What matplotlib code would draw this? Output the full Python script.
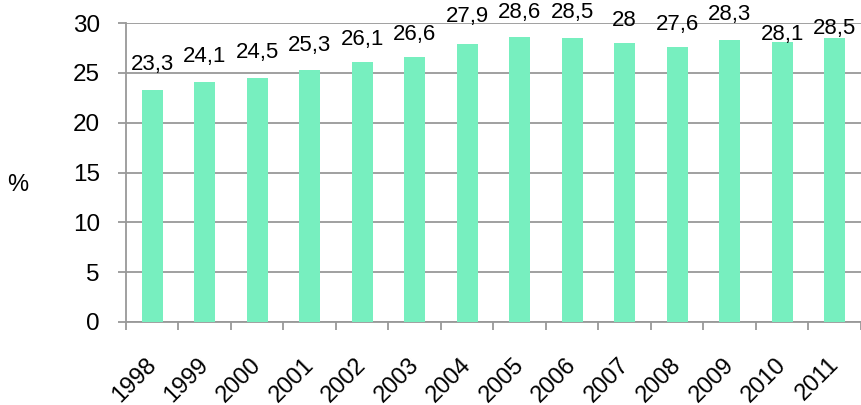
import matplotlib
matplotlib.use("Agg")
import matplotlib.pyplot as plt
import matplotlib.transforms as mtransforms
import numpy as np

years = ["1998", "1999", "2000", "2001", "2002", "2003", "2004",
         "2005", "2006", "2007", "2008", "2009", "2010", "2011"]
values = [23.3, 24.1, 24.5, 25.3, 26.1, 26.6, 27.9,
          28.6, 28.5, 28.0, 27.6, 28.3, 28.1, 28.5]
value_labels = ["23,3", "24,1", "24,5", "25,3", "26,1", "26,6", "27,9",
                "28,6", "28,5", "28", "27,6", "28,3", "28,1", "28,5"]
# label offsets above bar top (points)
label_dy = [18, 18, 18, 17.5, 16, 16, 19.5, 17.5, 18, 16, 16.5, 18, 5, 7]

plt.rcParams['font.family'] = ['Liberation Sans', 'DejaVu Sans']

fig = plt.figure(figsize=(8.62, 4.05), dpi=100)
ax = fig.add_axes([126/862, 1-322/405, (861-126)/862, (322-23)/405])

bar_color = "#77EFBF"
grid_color = "#999999"
x = np.arange(len(years))
ax.bar(x, values, width=0.4, color=bar_color, zorder=3)

for xi, v, lab, dy in zip(x, values, value_labels, label_dy):
    ax.annotate(lab, (xi, v), xytext=(0, dy), textcoords="offset points",
                ha="center", va="center", fontsize=16, color="black", zorder=4)

ax.set_xlim(-0.5, len(years) - 0.5)
ax.set_ylim(0, 30)
ax.set_yticks(np.arange(0, 31, 5))
ax.yaxis.grid(True, color=grid_color, linewidth=1.3, zorder=0)
ax.set_axisbelow(True)

ax.set_xticks(x)
ax.set_xticklabels(years, rotation=45, ha="right", rotation_mode="anchor", fontsize=17)
ax.tick_params(axis="x", which="major", length=0, pad=14)
offset = mtransforms.ScaledTranslation(-7/100, -12/100, fig.dpi_scale_trans)
for lbl in ax.get_xticklabels():
    lbl.set_transform(lbl.get_transform() + offset)
ax.set_xticks(np.arange(-0.5, len(years), 1), minor=True)
ax.tick_params(axis="x", which="minor", length=5.8, width=1.3, color=grid_color, direction="out")
ax.tick_params(axis="y", length=5.8, width=1.3, color=grid_color, labelsize=17.5, pad=13)

for s in ["top", "right"]:
    ax.spines[s].set_visible(False)
for s in ["left", "bottom"]:
    ax.spines[s].set_color(grid_color)
    ax.spines[s].set_linewidth(1.3)

fig.text(18/862, 1-185/405, "%", fontsize=17, ha="center", va="center")

fig.savefig("out.png", dpi=100)
